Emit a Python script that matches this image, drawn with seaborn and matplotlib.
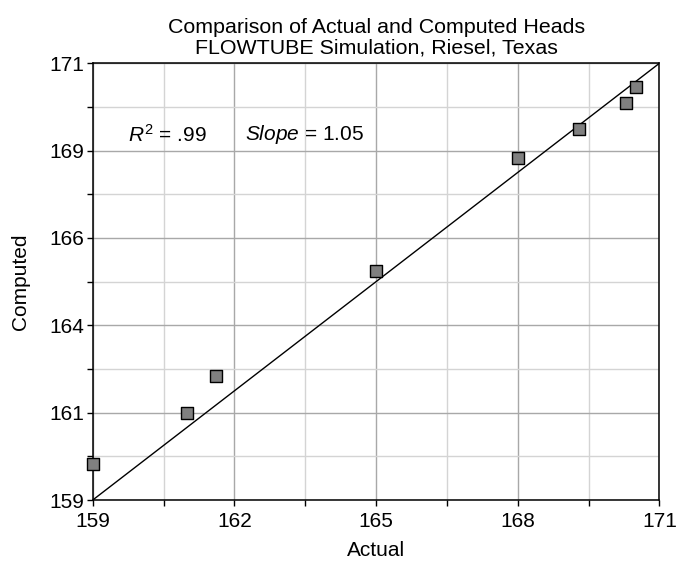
import matplotlib
matplotlib.use("Agg")
import matplotlib.pyplot as plt
import seaborn as sns
import pandas as pd

# Actual vs computed heads
actual = [159.0, 161.0, 161.6, 165.0, 168.0, 169.3, 170.3, 170.5]
computed = [160.0, 161.4, 162.4, 165.3, 168.4, 169.2, 169.9, 170.35]

# 1:1 line
line_x = [159, 171]
line_y = [159, 171]

x_ticks = [159, 162, 165, 168, 171]
x_minor = [160.5, 163.5, 166.5, 169.5]
y_ticks = [159, 161.4, 163.8, 166.2, 168.6, 171]
y_tick_labels = ["159", "161", "164", "166", "169", "171"]
y_minor = [160.2, 162.6, 165.0, 167.4, 169.8]

df = pd.DataFrame({"Actual": actual, "Computed": computed})

sns.set_style("white")
plt.rcParams["font.family"] = ["Liberation Sans", "DejaVu Sans"]
plt.rcParams["mathtext.fontset"] = "custom"
plt.rcParams["mathtext.rm"] = "Liberation Sans"
plt.rcParams["mathtext.it"] = "Liberation Sans:italic"
plt.rcParams["text.color"] = "black"
plt.rcParams["axes.labelcolor"] = "black"
plt.rcParams["xtick.color"] = "black"
plt.rcParams["ytick.color"] = "black"

fig = plt.figure(figsize=(6.77, 5.62), dpi=100)
ax = fig.add_axes([0.137, 0.1103, 0.837, 0.7771])

ax.set_xlim(159, 171)
ax.set_ylim(159, 171)
ax.set_xticks(x_ticks)
ax.set_xticks(x_minor, minor=True)
ax.set_yticks(y_ticks)
ax.set_yticklabels(y_tick_labels)
ax.set_yticks(y_minor, minor=True)

ax.grid(which="major", color="#a8a8a8", linewidth=1.0)
ax.grid(which="minor", color="#d4d4d4", linewidth=1.0)
ax.set_axisbelow(True)

ax.plot(line_x, line_y, color="black", linewidth=1.0, zorder=2)
sns.scatterplot(data=df, x="Actual", y="Computed", ax=ax, marker="s", s=85,
                color="#808080", edgecolor="black", linewidth=1.0, zorder=3,
                clip_on=False)

for s in ax.spines.values():
    s.set_color("black")
    s.set_linewidth(1.1)

ax.tick_params(which="both", direction="out", length=4.3, width=1.0,
               color="black", labelcolor="black", left=True, bottom=True,
               labelsize=15, pad=1.5)
ax.tick_params(axis="x", which="major", pad=4.5)

ax.set_xlabel("Actual", fontsize=15, labelpad=7)
ax.set_ylabel("Computed", fontsize=15, labelpad=14)
ax.set_title("Comparison of Actual and Computed Heads\nFLOWTUBE Simulation, Riesel, Texas",
             fontsize=15.4, linespacing=1.1, pad=7, color="black")

ax.text(159.75, 169.03, r"$\mathit{R}^2$ = .99", fontsize=15, va="center")
ax.text(162.23, 169.03, r"$\mathit{Slope}$ = 1.05", fontsize=15, va="center")

fig.savefig("out.png", dpi=100)
